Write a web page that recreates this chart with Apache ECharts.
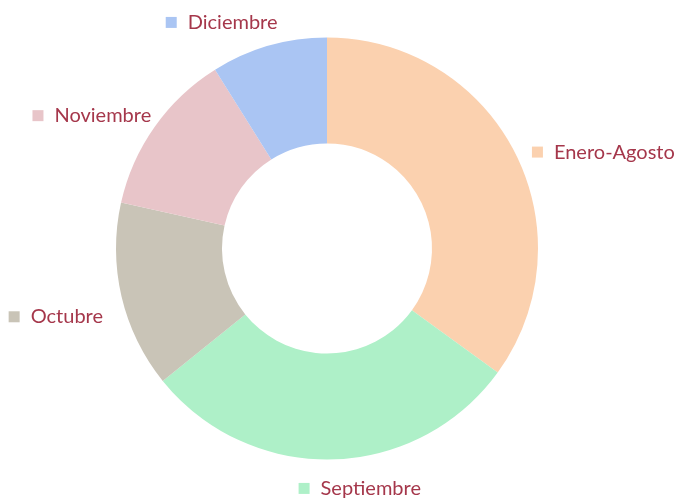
<!DOCTYPE html>
<html>
<head>
<meta charset="utf-8">
<script src="https://cdn.jsdelivr.net/npm/echarts@6/dist/echarts.min.js"></script>
<style>
  html, body { margin: 0; padding: 0; background: #ffffff; }
  #chart { width: 677px; height: 499px; }
</style>
</head>
<body>
<div id="chart"></div>
<script>
// Share of the year by period
const months = ['Enero-Agosto', 'Septiembre', 'Octubre', 'Noviembre', 'Diciembre'];
const shares = [35.0, 29.2, 14.3, 12.6, 8.9];
const sliceColors = ['#FBD1AF', '#AEF0C8', '#C9C4B7', '#E8C5C9', '#AAC5F3'];

// Ring geometry and label placement
const CX = 327, CY = 248.5, R_IN = 105, R_OUT = 211, LABEL_R = 230;
const labelNudge = [[0, 8], [27, 10], [0, 16], [12, 0], [14, -5]];
const TEXT_COLOR = '#A5374B';

const total = shares.reduce((a, b) => a + b, 0);
let acc = 0;
const midAngles = shares.map(v => {
  const m = (acc + v / 2) / total * 2 * Math.PI;
  acc += v;
  return m;
});

const data = months.map((name, i) => ({
  name: name,
  value: shares[i],
  itemStyle: { color: sliceColors[i] },
  label: {
    rich: {
      box: { width: 11, height: 11, backgroundColor: sliceColors[i] },
      txt: { fontFamily: 'Lato, "Open Sans", sans-serif', fontSize: 20, color: TEXT_COLOR, padding: [0, 0, 0, 11] }
    }
  }
}));

const chart = echarts.init(document.getElementById('chart'), null, { renderer: 'canvas' });
chart.setOption({
  animation: false,
  backgroundColor: '#ffffff',
  series: [{
    type: 'pie',
    center: [CX, CY],
    radius: [R_IN, R_OUT],
    startAngle: 90,
    clockwise: true,
    silent: true,
    avoidLabelOverlap: false,
    itemStyle: { borderWidth: 0 },
    label: {
      show: true,
      position: 'outside',
      formatter: p => '{box|}{txt|' + p.name + '}'
    },
    labelLine: { show: false },
    labelLayout: function (params) {
      const i = params.dataIndex;
      const a = midAngles[i];
      const dx = Math.sin(a), dy = -Math.cos(a);
      const w = params.labelRect.width;
      let x = CX + LABEL_R * dx;
      const y = CY + LABEL_R * dy;
      if (Math.abs(dx) < 0.2) x -= w / 2;
      else if (dx < 0) x -= w;
      return {
        x: x + labelNudge[i][0],
        y: y + labelNudge[i][1],
        align: 'left',
        verticalAlign: 'middle',
        hideOverlap: false
      };
    },
    data: data
  }]
});
</script>
</body>
</html>
